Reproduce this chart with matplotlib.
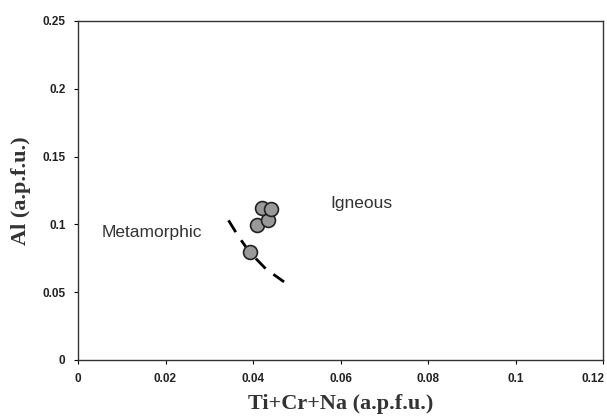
import matplotlib.pyplot as plt
import matplotlib.transforms as mtransforms
import numpy as np

# sample points
x_pts = [0.0392, 0.0410, 0.0434, 0.0421, 0.0440]
y_pts = [0.0796, 0.0998, 0.1029, 0.1123, 0.1115]

# dashed boundary line
x_line = [0.0344, 0.0366, 0.0392, 0.0430, 0.0471]
y_line = [0.1030, 0.0915, 0.0796, 0.0670, 0.0576]

x_ticks = [0, 0.02, 0.04, 0.06, 0.08, 0.1, 0.12]
y_ticks = [0, 0.05, 0.1, 0.15, 0.2, 0.25]

fig = plt.figure(figsize=(6.07, 4.17), dpi=100)
ax = fig.add_axes([78/607, 1-360/417, (603-78)/607, (360-21)/417])

ax.plot(x_line, y_line, color="black", lw=2.0, linestyle=(0, (5, 3.5)))
ax.plot(x_pts, y_pts, linestyle="none", marker="o", markersize=10,
        markerfacecolor="#999999", markeredgecolor="#222222", markeredgewidth=1.2)

ax.set_xlim(0, 0.12)
ax.set_ylim(0, 0.25)
ax.set_xticks(x_ticks)
ax.set_yticks(y_ticks)
ax.set_xticklabels(["0", "0.02", "0.04", "0.06", "0.08", "0.1", "0.12"])
ax.set_yticklabels(["0", "0.05", "0.1", "0.15", "0.2", "0.25"])
ax.tick_params(labelsize=8.5, length=3, width=0.8, pad=6, labelcolor="#222222")
for lab in ax.get_xticklabels() + ax.get_yticklabels():
    lab.set_fontweight("bold")
    lab.set_family("Liberation Sans")
# last x label sits right at the figure edge; nudge it inward so it is not clipped
last = ax.get_xticklabels()[-1]
last.set_transform(last.get_transform() + mtransforms.ScaledTranslation(-10/100, 0, fig.dpi_scale_trans))
for s in ax.spines.values():
    s.set_linewidth(1.0)
    s.set_color("#333333")

ax.text(0.0576, 0.1157, "Igneous", fontsize=12.5, family="Liberation Sans", color="#333333", va="center")
ax.text(0.0055, 0.0937, "Metamorphic", fontsize=12.5, family="Liberation Sans", color="#333333", va="center")

ax.set_xlabel("Ti+Cr+Na (a.p.f.u.)", fontsize=16, fontweight="bold", family="Liberation Serif", labelpad=7, color="#333333")
ax.set_ylabel("Al (a.p.f.u.)", fontsize=16, fontweight="bold", family="Liberation Serif", labelpad=8, color="#333333")

fig.savefig("out.png", dpi=100)
